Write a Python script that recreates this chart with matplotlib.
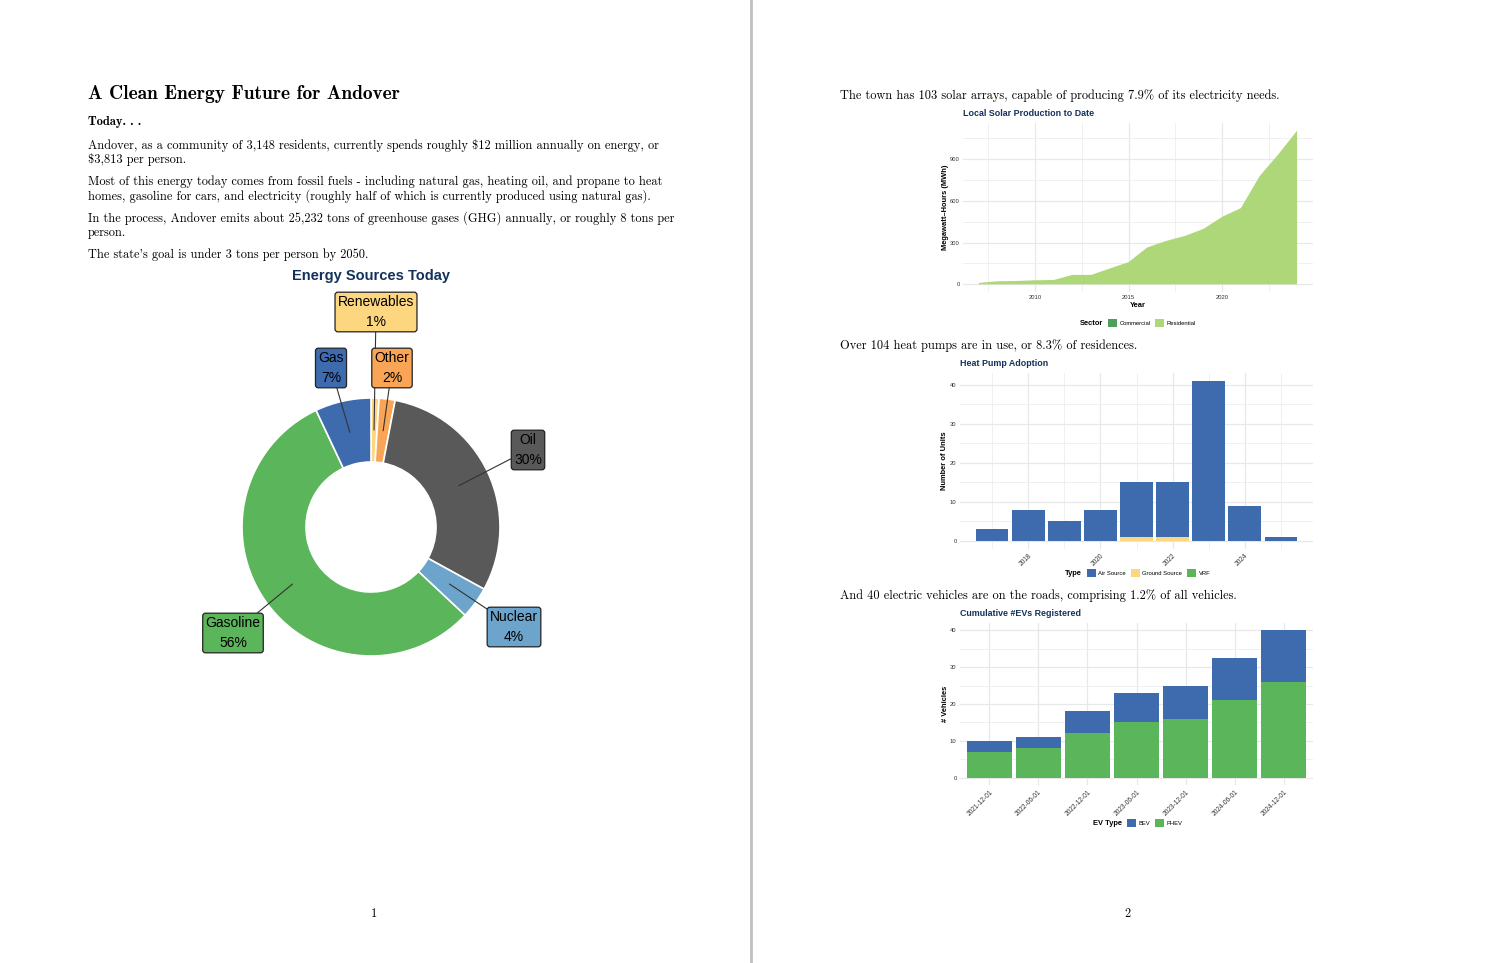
import matplotlib.pyplot as plt
from matplotlib.patches import Patch
from matplotlib.ticker import MultipleLocator
import numpy as np

# ---- data ----
src_labels = ['Renewables', 'Other', 'Oil', 'Nuclear', 'Gasoline', 'Gas']
src_share = [1, 2, 30, 4, 56, 7]
src_colors = ['#fdd680', '#f9a555', '#595959', '#6ca4cc', '#5bb55a', '#3e6aae']

solar_years = list(range(2007, 2025))
solar_commercial = [0] * 18
solar_residential = [10, 22, 24, 29, 31, 68, 68, 114, 160, 266, 312, 348, 399, 486, 549, 779, 936, 1106]

hp_years = list(range(2017, 2026))
hp_air = [3, 8, 5, 8, 14, 14, 41, 9, 1]
hp_ground = [0, 0, 0, 0, 1, 1, 0, 0, 0]
hp_vrf = [0, 0, 0, 0, 0, 0, 0, 0, 0]

ev_dates = ['2021-12-01', '2022-06-01', '2022-12-01', '2023-06-01',
            '2023-12-01', '2024-06-01', '2024-12-01']
ev_phev = [7, 8, 12, 15, 16, 21, 26]
ev_bev = [3, 3, 6, 8, 9, 11.5, 14]

BLUE, GREEN, YELLOW = '#3e6aae', '#5bb55a', '#fdd680'
NAVY = '#14315c'
SERIF = ['cmr10', 'DejaVu Serif']
SERIF_B = ['cmb10', 'DejaVu Serif']
SANS = ['Liberation Sans', 'DejaVu Sans']

W, H = 1500, 963
fig = plt.figure(figsize=(15, 9.63), dpi=100)


def fx(x):
    return x / W


def fy(y):
    return 1 - y / H


def box(l, t, r, b):
    return [fx(l), fy(b), (r - l) / W, (b - t) / H]


def ptext(x, y, s, size=8.9, fam=SERIF, **kw):
    fig.text(fx(x), fy(y), s, fontsize=size, family=fam, va='center',
             parse_math=False, **kw)


# ---- background / page 1 ----
bg = fig.add_axes([0, 0, 1, 1])
bg.axis('off')
bg.axvline(751, color='#c0c0c0', lw=2)

ptext(88, 94, 'A Clean Energy Future for Andover', size=14, fam=SERIF_B)
ptext(88, 122, 'Today. . .', size=9, fam=SERIF_B)
body = [
    (145, 'Andover, as a community of 3,148 residents, currently spends roughly $12 million annually on energy, or'),
    (160, '$3,813 per person.'),
    (182, 'Most of this energy today comes from fossil fuels - including natural gas, heating oil, and propane to heat'),
    (196, 'homes, gasoline for cars, and electricity (roughly half of which is currently produced using natural gas).'),
    (218, 'In the process, Andover emits about 25,232 tons of greenhouse gases (GHG) annually, or roughly 8 tons per'),
    (233, 'person.'),
    (255, "The state's goal is under 3 tons per person by 2050."),
]
for y, s in body:
    ptext(88, y, s)
ptext(374, 914, '1', ha='center')
ptext(1127, 914, '2', ha='center')

ptext(371, 276, 'Energy Sources Today', size=10.5, fam=SANS, ha='center',
      weight='bold', color=NAVY)

# donut
cx, cy, R, r_in = 371, 527, 129, 65
wedges, _ = bg.pie(src_share, colors=src_colors, startangle=90, counterclock=False,
                   center=(cx, H - cy), radius=R,
                   wedgeprops=dict(width=R - r_in, edgecolor='white', linewidth=1.2))
bg.set_xlim(0, W)
bg.set_ylim(0, H)
bg.set_aspect('equal')

label_pos = {'Renewables': (376, 312), 'Other': (392, 368), 'Oil': (528, 450),
             'Nuclear': (514, 627), 'Gasoline': (233, 633), 'Gas': (331, 368)}
rm = (R + r_in) / 2
for w, lab, pct, col in zip(wedges, src_labels, src_share, src_colors):
    ang = np.deg2rad((w.theta1 + w.theta2) / 2)
    px = cx + rm * np.cos(ang)
    py = (H - cy) + rm * np.sin(ang)
    tx, ty = label_pos[lab]
    bg.annotate(f'{lab}\n{pct}%', xy=(px, py), xytext=(tx, H - ty),
                ha='center', va='center', fontsize=10, family=SANS,
                linespacing=1.55,
                bbox=dict(boxstyle='round,pad=0.2,rounding_size=0.2', fc=col,
                          ec='#222222', lw=0.9),
                arrowprops=dict(arrowstyle='-', color='#333333', lw=0.8,
                                shrinkA=0, shrinkB=0))

# ---- page 2 ----
ptext(840, 96, 'The town has 103 solar arrays, capable of producing 7.9% of its electricity needs.')
ptext(840, 346, 'Over 104 heat pumps are in use, or 8.3% of residences.')
ptext(840, 596, 'And 40 electric vehicles are on the roads, comprising 1.2% of all vehicles.')


def minimal(ax, title, tx, ty):
    for s in ax.spines.values():
        s.set_visible(False)
    ax.set_axisbelow(True)
    ax.grid(True, which='major', color='#e8e8e8', lw=0.9)
    ax.grid(True, which='minor', color='#eeeeee', lw=0.6)
    ax.tick_params(which='both', length=0, labelsize=4.2, labelcolor='#333333', pad=2.5)
    for t in ax.get_xticklabels() + ax.get_yticklabels():
        t.set_family(SANS)
    ptext(tx, ty, title, size=6.4, fam=SANS, weight='bold', color=NAVY)


def rotate_x(ax):
    for t in ax.get_xticklabels():
        t.set_rotation(45)
        t.set_ha('right')
        t.set_rotation_mode('anchor')
        t.set_fontsize(4.8)


def legend(ax, title, names, colors, y):
    handles = [Patch(fc='none', ec='none')] + [Patch(fc=c, ec='none') for c in colors]
    leg = fig.legend(handles, [title] + names, loc='center',
                     bbox_to_anchor=(fx(1132), fy(y)), ncol=len(handles),
                     frameon=False, prop=dict(family=SANS, size=4.2),
                     handlelength=1.6, handleheight=1.6, handletextpad=0.4,
                     columnspacing=0.8)
    leg.get_texts()[0].set_fontsize(5.4)
    leg.get_texts()[0].set_weight('bold')
    leg.legend_handles[0].set_width(0)


def ylab(ax, s, x):
    ax.set_ylabel(s, fontsize=5.4, family=SANS, color='black', weight='bold')
    ax.yaxis.set_label_coords(x, 0.5)


# solar
ax1 = fig.add_axes(box(963, 123, 1313, 292))
ax1.stackplot(solar_years, solar_commercial, solar_residential,
              colors=['#4e9f5e', '#aed77a'])
span = solar_years[-1] - solar_years[0]
ax1.set_xlim(solar_years[0] - 0.05 * span, solar_years[-1] + 0.05 * span)
top = max(solar_residential)
ax1.set_ylim(-0.05 * top, 1.05 * top)
ax1.set_xticks([2010, 2015, 2020])
ax1.xaxis.set_minor_locator(MultipleLocator(2.5))
ax1.set_yticks([0, 300, 600, 900])
ax1.yaxis.set_minor_locator(MultipleLocator(150))
minimal(ax1, 'Local Solar Production to Date', 963, 114)
ylab(ax1, 'Megawatt\u2013Hours (MWh)', -0.04)
ax1.set_xlabel('Year', fontsize=5.4, family=SANS, weight='bold')
ax1.xaxis.set_label_coords(0.5, -0.06)
legend(ax1, 'Sector', ['Commercial', 'Residential'], ['#4e9f5e', '#aed77a'], 323)

# heat pumps
ax2 = fig.add_axes(box(960, 373, 1313, 549))
vrf = np.array(hp_vrf)
gnd = np.array(hp_ground)
ax2.bar(hp_years, vrf, 0.9, color=GREEN)
ax2.bar(hp_years, gnd, 0.9, bottom=vrf, color=YELLOW)
ax2.bar(hp_years, hp_air, 0.9, bottom=vrf + gnd, color=BLUE)
span = hp_years[-1] - hp_years[0] + 0.9
ax2.set_xlim(hp_years[0] - 0.45 - 0.05 * span, hp_years[-1] + 0.45 + 0.05 * span)
top = max(np.array(hp_air) + gnd + vrf)
ax2.set_ylim(-0.05 * top, 1.05 * top)
ax2.set_xticks([2018, 2020, 2022, 2024])
ax2.xaxis.set_minor_locator(MultipleLocator(1))
ax2.set_yticks([0, 10, 20, 30, 40])
ax2.yaxis.set_minor_locator(MultipleLocator(5))
minimal(ax2, 'Heat Pump Adoption', 960, 364)
rotate_x(ax2)
ylab(ax2, 'Number of Units', -0.035)
legend(ax2, 'Type', ['Air Source', 'Ground Source', 'VRF'], [BLUE, YELLOW, GREEN], 573)

# EVs
ax3 = fig.add_axes(box(960, 623, 1313, 785))
xs = np.arange(len(ev_dates))
ax3.bar(xs, ev_phev, 0.92, color=GREEN)
ax3.bar(xs, ev_bev, 0.92, bottom=ev_phev, color=BLUE)
ax3.set_xlim(-0.6, len(ev_dates) - 0.4)
top = max(np.array(ev_phev) + np.array(ev_bev))
ax3.set_ylim(-0.05 * top, 1.05 * top)
ax3.set_xticks(xs)
ax3.set_xticklabels(ev_dates)
ax3.set_yticks([0, 10, 20, 30, 40])
ax3.yaxis.set_minor_locator(MultipleLocator(5))
minimal(ax3, 'Cumulative #EVs Registered', 960, 614)
rotate_x(ax3)
ylab(ax3, '# Vehicles', -0.032)
legend(ax3, 'EV Type', ['BEV', 'PHEV'], [BLUE, GREEN], 823)

fig.savefig('out.png', dpi=100)
